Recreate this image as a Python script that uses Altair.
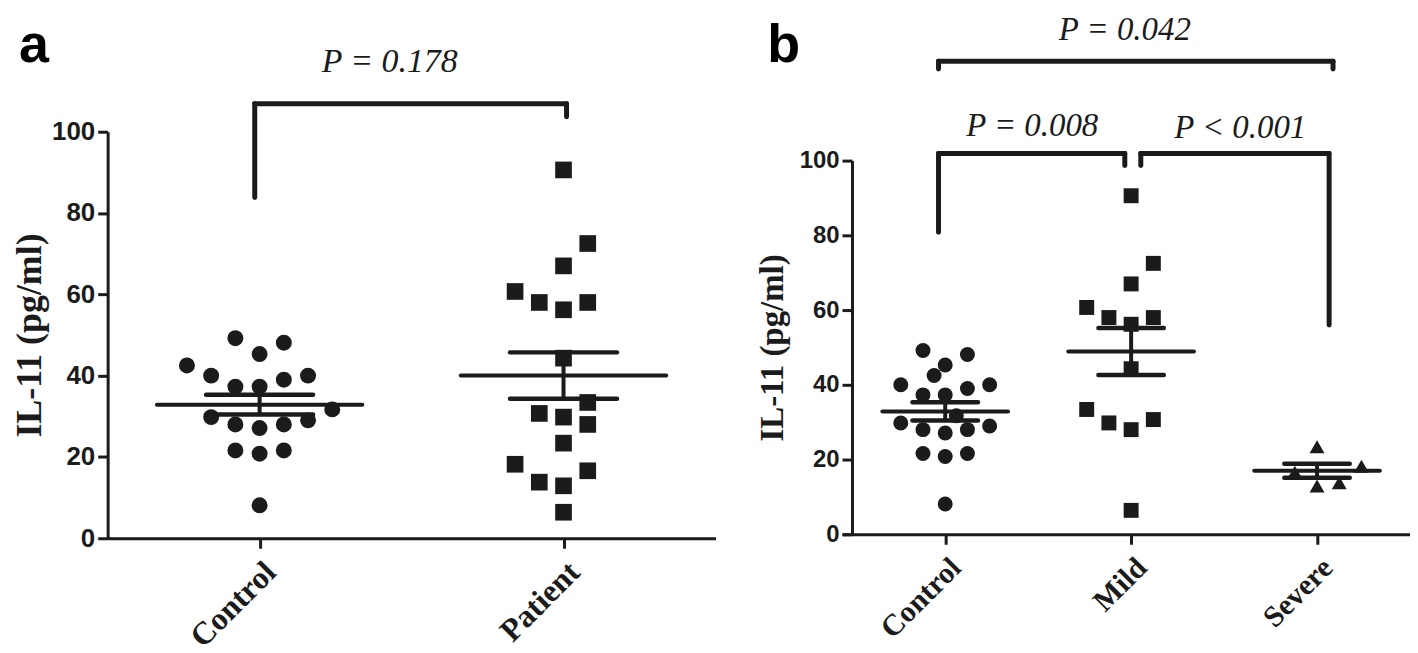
import altair as alt
import pandas as pd

INK = "#1b1b1b"

# ---------------- data ----------------
categories_a = ["Control", "Patient"]
categories_b = ["Control", "Mild", "Severe"]
y_ticks = [0, 20, 40, 60, 80, 100]

control_values = [49.2, 48.1, 45.3, 42.5, 40.0, 39.0, 40.0, 37.3, 37.3, 31.7,
                  29.8, 28.0, 27.1, 28.0, 29.0, 21.6, 20.8, 21.6, 8.1]
# swarm column of every point (as drawn by the original software)
control_columns_a = [-1, 1, 0, -3, -2, 1, 2, -1, 0, 3, -2, -1, 0, 1, 2, -1, 0, 1, 0]
control_columns_b = [-1, 1, 0, -0.5, -2, 1, 2, -1, 0, 0.5, -2, -1, 0, 1, 2, -1, 0, 1, 0]

mild_values = [90.6, 72.5, 67.0, 60.7, 58.0, 58.0, 56.2, 44.3, 33.4, 29.8, 30.7, 28.0, 6.4]
mild_columns_b = [0, 1, 0, -2, -1, 1, 0, 0, -2, -1, 1, 0, 0]

severe_values = [23.4, 18.2, 16.6, 12.9, 13.8]
severe_columns_b = [0, 2, -1, 0, 1]

patient_values = mild_values + severe_values
patient_columns_a = [0, 1, 0, -2, -1, 1, 0, 0, 1, 0, -1, 1, 0, 0, -2, 1, 0, -1]

# significance brackets (category units / IL-11 units)
bracket_a_from = [-0.016]
bracket_a_to = [1.01]
bracket_a_top = [106.9]
bracket_a_from_end = [83.8]
bracket_a_to_end = [103.7]
p_text_a = ["P = 0.178"]
p_text_a_x = [0.428]
p_text_a_y = [117.2]

bracket_b_from = [-0.036, -0.036, 1.052]
bracket_b_to = [2.086, 0.966, 2.065]
bracket_b_top = [126.6, 101.9, 101.9]
bracket_b_from_end = [124.5, 80.8, 98.7]
bracket_b_to_end = [124.5, 98.7, 56.0]
p_text_b = ["P = 0.042", "P = 0.008", "P < 0.001"]
p_text_b_x = [0.966, 0.468, 1.587]
p_text_b_y = [135.0, 109.3, 108.8]


def points_frame(groups):
    rows = []
    for idx, (name, vals, cols) in enumerate(groups):
        for v, c in zip(vals, cols):
            rows.append({"group": name, "idx": idx, "value": v, "col": c})
    return pd.DataFrame(rows)


pts_a = points_frame([("Control", control_values, control_columns_a),
                      ("Patient", patient_values, patient_columns_a)])
pts_b = points_frame([("Control", control_values, control_columns_b),
                      ("Mild", mild_values, mild_columns_b),
                      ("Severe", severe_values, severe_columns_b)])

br_a = pd.DataFrame({"x1": bracket_a_from, "x2": bracket_a_to, "top": bracket_a_top,
                     "e1": bracket_a_from_end, "e2": bracket_a_to_end})
br_b = pd.DataFrame({"x1": bracket_b_from, "x2": bracket_b_to, "top": bracket_b_top,
                     "e1": bracket_b_from_end, "e2": bracket_b_to_end})
lab_a = pd.DataFrame({"label": p_text_a, "x": p_text_a_x, "y": p_text_a_y})
lab_b = pd.DataFrame({"label": p_text_b, "x": p_text_b_x, "y": p_text_b_y})


def make_panel(points, cats, shapes, sizes, col_step, x_domain, y_range, width, height,
               brackets, labels, letter, letter_x, letter_y, label_size, title_size,
               tick_label_size, title_padding, y_offset, p_size):
    x_axis = alt.Axis(values=list(range(len(cats))), labelExpr=f"{cats}[datum.value]",
                      title=None, grid=False, labelAngle=-45, labelAlign="right",
                      labelBaseline="top", labelFont="Liberation Serif",
                      labelFontWeight="bold", labelFontSize=label_size, labelPadding=8,
                      labelColor=INK, labelOverlap=False, tickSize=10, tickWidth=3,
                      tickColor=INK, domainWidth=3, domainColor=INK)
    y_axis = alt.Axis(values=y_ticks, title="IL-11 (pg/ml)", grid=False,
                      titleFont="Liberation Serif", titleFontWeight="bold",
                      titleFontSize=title_size, titleColor=INK, titlePadding=title_padding,
                      labelFont="Liberation Sans", labelFontWeight="bold",
                      labelFontSize=tick_label_size, labelColor=INK, labelPadding=3,
                      tickSize=10, tickWidth=3, tickColor=INK, domainWidth=3,
                      domainColor=INK, offset=y_offset)
    xs = alt.Scale(domain=x_domain, nice=False, zero=False)
    ys = alt.Scale(domain=[0, 100], range=y_range, nice=False, zero=False)

    def X(f):
        return alt.X(f, type="quantitative", scale=xs, axis=x_axis)

    def Y(f):
        return alt.Y(f, type="quantitative", scale=ys, axis=y_axis)

    base = alt.Chart(points)
    dots = base.transform_calculate(
        xpos=f"datum.idx + datum.col * {col_step}"
    ).mark_point(filled=True, opacity=1, color=INK, strokeWidth=0).encode(
        x=X("xpos"), y=Y("value"),
        shape=alt.Shape("group:N", scale=alt.Scale(domain=cats, range=shapes), legend=None),
        size=alt.Size("group:N", scale=alt.Scale(domain=cats, range=sizes), legend=None),
    )
    agg = base.transform_aggregate(
        mean="mean(value)", sem="stderr(value)", groupby=["idx"]
    ).transform_calculate(
        xl="datum.idx - 0.338", xr="datum.idx + 0.338",
        cl="datum.idx - 0.176", cr="datum.idx + 0.176",
        lo="datum.mean - datum.sem", hi="datum.mean + datum.sem",
    )
    mean_line = agg.mark_rule(color=INK, strokeWidth=4, strokeCap="round").encode(
        x=X("xl"), x2="xr:Q", y=Y("mean"))
    sem_line = agg.mark_rule(color=INK, strokeWidth=4).encode(
        x=X("idx"), y=Y("lo"), y2="hi:Q")
    caps = agg.transform_fold(["lo", "hi"], as_=["which", "yv"]).mark_rule(
        color=INK, strokeWidth=4.5, strokeCap="round").encode(
        x=X("cl"), x2="cr:Q", y=Y("yv"))

    bb = alt.Chart(brackets)
    b_h = bb.mark_rule(color=INK, strokeWidth=5, strokeCap="round").encode(
        x=X("x1"), x2="x2:Q", y=Y("top"))
    b_l = bb.mark_rule(color=INK, strokeWidth=5, strokeCap="round").encode(
        x=X("x1"), y=Y("e1"), y2="top:Q")
    b_r = bb.mark_rule(color=INK, strokeWidth=5, strokeCap="round").encode(
        x=X("x2"), y=Y("e2"), y2="top:Q")
    ptxt = alt.Chart(labels).mark_text(
        font="Liberation Serif", fontStyle="italic", fontSize=p_size, color=INK,
        baseline="middle", align="center").encode(x=X("x"), y=Y("y"), text="label:N")
    letter_mark = alt.Chart(pd.DataFrame({"t": [letter]})).mark_text(
        font="Liberation Sans", fontWeight="bold", fontSize=54, color="#000000",
        align="left", baseline="alphabetic").encode(
        x=alt.value(letter_x), y=alt.value(letter_y), text="t:N")

    return alt.layer(dots, mean_line, sem_line, caps, b_h, b_l, b_r, ptxt, letter_mark).properties(
        width=width, height=height)


panel_a = make_panel(pts_a, categories_a, ["circle", "square"], [256, 280], 0.0797,
                     [-0.5, 1.5], [528, 120], 610, 528, br_a, lab_a, "a", -89, 50,
                     32, 36, 26, 3, 0, 34)
panel_b = make_panel(pts_b, categories_b, ["circle", "square", "triangle-up"], [225, 225, 300],
                     0.1195, [-0.555, 2.5], [524, 149], 570, 524, br_b, lab_b, "b", -75, 50,
                     30, 33, 24, 10, -10, 33)

chart = alt.hconcat(panel_a, panel_b, spacing=40).resolve_scale(
    shape="independent", size="independent"
).properties(
    padding={"left": 3, "top": 3, "right": 0, "bottom": 0}
).configure_view(stroke=None)

chart.save("out.html", embed_options={"renderer": "svg", "actions": False})
